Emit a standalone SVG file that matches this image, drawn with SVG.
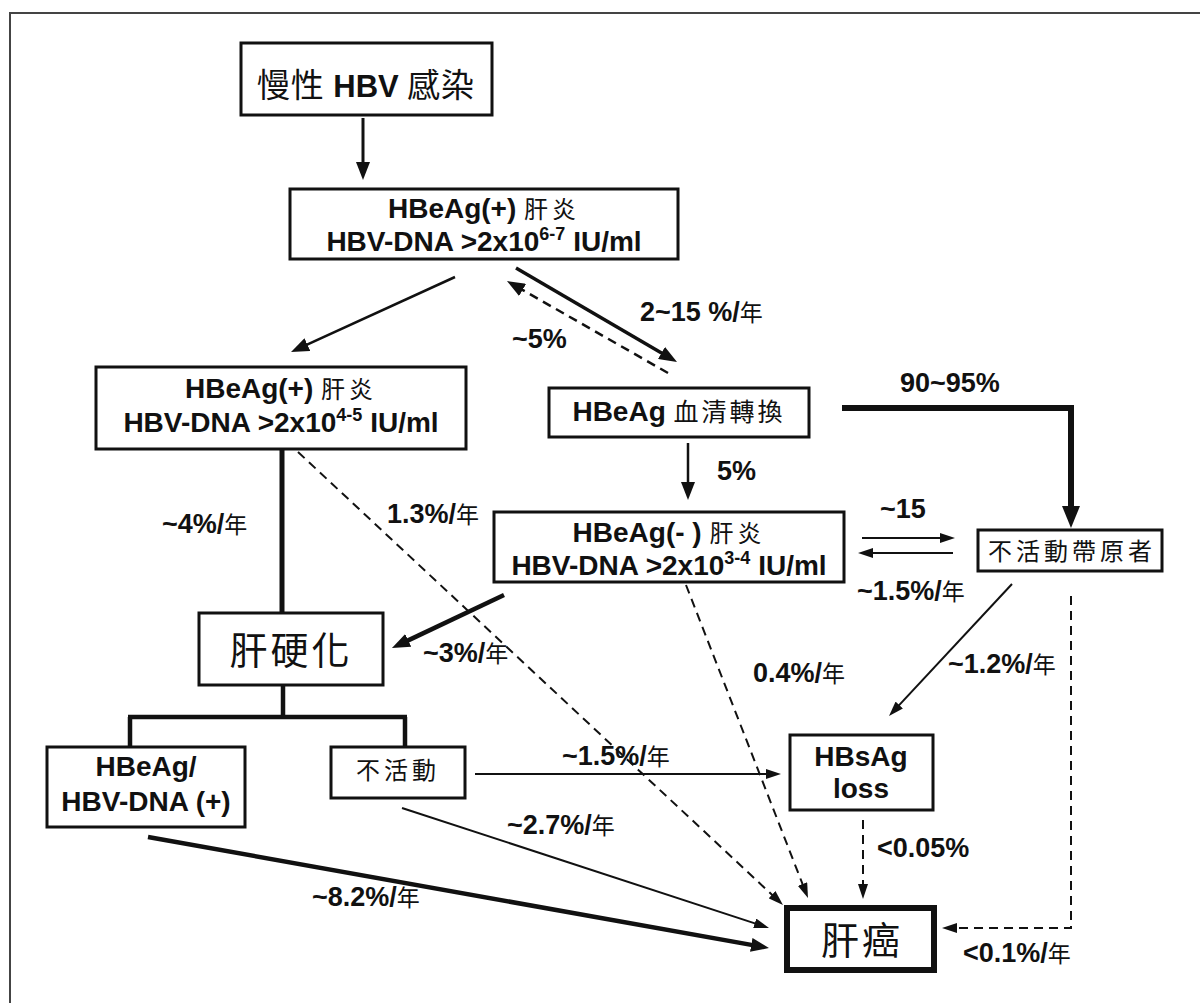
<svg xmlns="http://www.w3.org/2000/svg" width="1200" height="1003" viewBox="0 0 1200 1003">
<style>
.bx{fill:#fff;stroke:#111;stroke-width:3}
.en{font-family:"Liberation Sans",Arial,sans-serif;font-weight:bold;fill:#111}
.cj{font-family:"Noto Sans CJK TC","Noto Sans CJK SC",sans-serif;font-weight:normal;fill:#111}
.t28{font-size:28px}
.lb{font-family:"Liberation Sans",Arial,sans-serif;font-weight:bold;font-size:27px;fill:#111}
.lb .cj{font-size:23px}
.ln{fill:none;stroke:#111}
.ds{stroke-dasharray:9 6}
</style>
<defs>
<marker id="arr" markerUnits="userSpaceOnUse" markerWidth="18" markerHeight="14" refX="10" refY="7" orient="auto"><path d="M0,0 L18,7 L0,14 Z" fill="#111"/></marker>
<marker id="arrS" markerUnits="userSpaceOnUse" markerWidth="15" markerHeight="10" refX="9" refY="5" orient="auto"><path d="M0,0 L15,5 L0,10 Z" fill="#111"/></marker>
<marker id="arrL" markerUnits="userSpaceOnUse" markerWidth="22" markerHeight="18" refX="12" refY="9" orient="auto"><path d="M0,0 L22,9 L0,18 Z" fill="#111"/></marker>
</defs>
<rect width="1200" height="1003" fill="#fff"/>
<path d="M10,1003 V13 H1200" fill="none" stroke="#444" stroke-width="2"/>

<g id="connectors">
<line class="ln" x1="363" y1="118" x2="363" y2="172" stroke-width="3" marker-end="url(#arr)"/>
<line class="ln" x1="455" y1="277" x2="298.3" y2="348.7" stroke-width="2.5" marker-end="url(#arr)"/>
<line class="ln" x1="516" y1="268" x2="670.1" y2="358" stroke-width="3.5" marker-end="url(#arr)"/>
<line class="ln ds" x1="668" y1="373" x2="513.9" y2="285" stroke-width="2.5" marker-end="url(#arr)"/>
<line class="ln" x1="688" y1="443" x2="688" y2="492" stroke-width="2.5" marker-end="url(#arr)"/>
<polyline class="ln" points="842,408 1071,408 1071,518" stroke-width="6" marker-end="url(#arrL)"/>
<line class="ln" x1="282" y1="449" x2="282" y2="613" stroke-width="5"/>
<line class="ln ds" x1="298" y1="452" x2="778.6" y2="900.9" stroke-width="2" marker-end="url(#arrS)"/>
<line class="ln ds" x1="686" y1="585" x2="805.8" y2="892.4" stroke-width="2" marker-end="url(#arrS)"/>
<line class="ln" x1="504" y1="595" x2="399.2" y2="644.6" stroke-width="4.5" marker-end="url(#arr)"/>
<line class="ln" x1="862" y1="538" x2="949" y2="538" stroke-width="2" marker-end="url(#arrS)"/>
<line class="ln" x1="953" y1="553" x2="864" y2="553" stroke-width="2" marker-end="url(#arrS)"/>
<line class="ln" x1="1012" y1="584" x2="893.1" y2="711.6" stroke-width="2" marker-end="url(#arrS)"/>
<polyline class="ln ds" points="1071,596 1071,928 948,928" stroke-width="2" marker-end="url(#arrS)"/>
<line class="ln ds" x1="863" y1="820" x2="863" y2="893" stroke-width="2" marker-end="url(#arrS)"/>
<line class="ln" x1="475" y1="774" x2="775" y2="774" stroke-width="1.8" marker-end="url(#arrS)"/>
<line class="ln" x1="402" y1="808" x2="763.3" y2="926.1" stroke-width="2" marker-end="url(#arrS)"/>
<line class="ln" x1="148" y1="837" x2="761.1" y2="946.6" stroke-width="4.5" marker-end="url(#arr)"/>
<path class="ln" d="M283,685 V717 M128,717 H407 M130,717 V747 M405,717 V747" stroke-width="4.5"/>
</g>

<g id="labels">
<text class="lb" x="640" y="321">2~15 %/<tspan class="cj">年</tspan></text>
<text class="lb" x="512" y="348">~5%</text>
<text class="lb" x="900" y="392">90~95%</text>
<text class="lb" x="717" y="480">5%</text>
<text class="lb" x="162" y="533">~4%/<tspan class="cj">年</tspan></text>
<text class="lb" x="387" y="523">1.3%/<tspan class="cj">年</tspan></text>
<text class="lb" x="880" y="518">~15</text>
<text class="lb" x="857" y="600">~1.5%/<tspan class="cj">年</tspan></text>
<text class="lb" x="423" y="662">~3%/<tspan class="cj">年</tspan></text>
<text class="lb" x="753" y="682">0.4%/<tspan class="cj">年</tspan></text>
<text class="lb" x="948" y="673">~1.2%/<tspan class="cj">年</tspan></text>
<text class="lb" x="562" y="765">~1.5%/<tspan class="cj">年</tspan></text>
<text class="lb" x="507" y="834">~2.7%/<tspan class="cj">年</tspan></text>
<text class="lb" x="877" y="857">&lt;0.05%</text>
<text class="lb" x="312" y="906">~8.2%/<tspan class="cj">年</tspan></text>
<text class="lb" x="963" y="962">&lt;0.1%/<tspan class="cj">年</tspan></text>
</g>

<g id="n-chronic">
<rect class="bx" x="241" y="43" width="251" height="72"/>
<text x="366" y="97" text-anchor="middle"><tspan class="cj" font-size="33" letter-spacing="1">慢性 </tspan><tspan class="en" font-size="31">HBV</tspan><tspan class="cj" font-size="33" letter-spacing="1"> 感染</tspan></text>
</g>

<g id="n-hbeag-pos-67">
<rect class="bx" x="290" y="189" width="388" height="70"/>
<text x="484" y="218" text-anchor="middle"><tspan class="en t28">HBeAg(+) </tspan><tspan class="cj" font-size="24" letter-spacing="4">肝炎</tspan></text>
<text class="en t28" x="484" y="251" text-anchor="middle">HBV-DNA &gt;2x10<tspan font-size="18" dy="-11">6-7</tspan><tspan dy="11"> IU/ml</tspan></text>
</g>

<g id="n-hbeag-pos-45">
<rect class="bx" x="96" y="367" width="370" height="82"/>
<text x="281" y="398" text-anchor="middle"><tspan class="en t28">HBeAg(+) </tspan><tspan class="cj" font-size="24" letter-spacing="4">肝炎</tspan></text>
<text class="en t28" x="281" y="432" text-anchor="middle">HBV-DNA &gt;2x10<tspan font-size="18" dy="-11">4-5</tspan><tspan dy="11"> IU/ml</tspan></text>
</g>

<g id="n-seroconversion">
<rect class="bx" x="549" y="388" width="260" height="49"/>
<text x="679" y="421" text-anchor="middle"><tspan class="en t28">HBeAg </tspan><tspan class="cj" font-size="25" letter-spacing="3">血清轉換</tspan></text>
</g>

<g id="n-hbeag-neg">
<rect class="bx" x="494" y="512" width="350" height="70"/>
<text x="669" y="542" text-anchor="middle"><tspan class="en t28">HBeAg(- ) </tspan><tspan class="cj" font-size="24" letter-spacing="4">肝炎</tspan></text>
<text class="en t28" x="669" y="575" text-anchor="middle">HBV-DNA &gt;2x10<tspan font-size="18" dy="-11">3-4</tspan><tspan dy="11"> IU/ml</tspan></text>
</g>

<g id="n-inactive-carrier">
<rect class="bx" x="978" y="530" width="184" height="41"/>
<text class="cj" x="1072" y="560" text-anchor="middle" font-size="24" letter-spacing="4">不活動帶原者</text>
</g>

<g id="n-cirrhosis">
<rect class="bx" x="199" y="613" width="184" height="72"/>
<text class="cj" x="291" y="664" text-anchor="middle" font-size="38" letter-spacing="3">肝硬化</text>
</g>

<g id="n-active-cirrhosis">
<rect class="bx" x="47" y="747" width="198" height="80"/>
<text class="en t28" x="146" y="776" text-anchor="middle">HBeAg/</text>
<text class="en t28" x="146" y="811" text-anchor="middle">HBV-DNA (+)</text>
</g>

<g id="n-inactive-cirrhosis">
<rect class="bx" x="331" y="747" width="134" height="51"/>
<text class="cj" x="398" y="779" text-anchor="middle" font-size="24" letter-spacing="4">不活動</text>
</g>

<g id="n-hbsag-loss">
<rect class="bx" x="790" y="735" width="143" height="75"/>
<text class="en t28" x="861" y="766" text-anchor="middle">HBsAg</text>
<text class="en t28" x="861" y="798" text-anchor="middle">loss</text>
</g>

<g id="n-hcc">
<rect x="787" y="908" width="147" height="62" fill="#fff" stroke="#111" stroke-width="6"/>
<text class="cj" x="862" y="954" text-anchor="middle" font-size="38" letter-spacing="3">肝癌</text>
</g>
</svg>
